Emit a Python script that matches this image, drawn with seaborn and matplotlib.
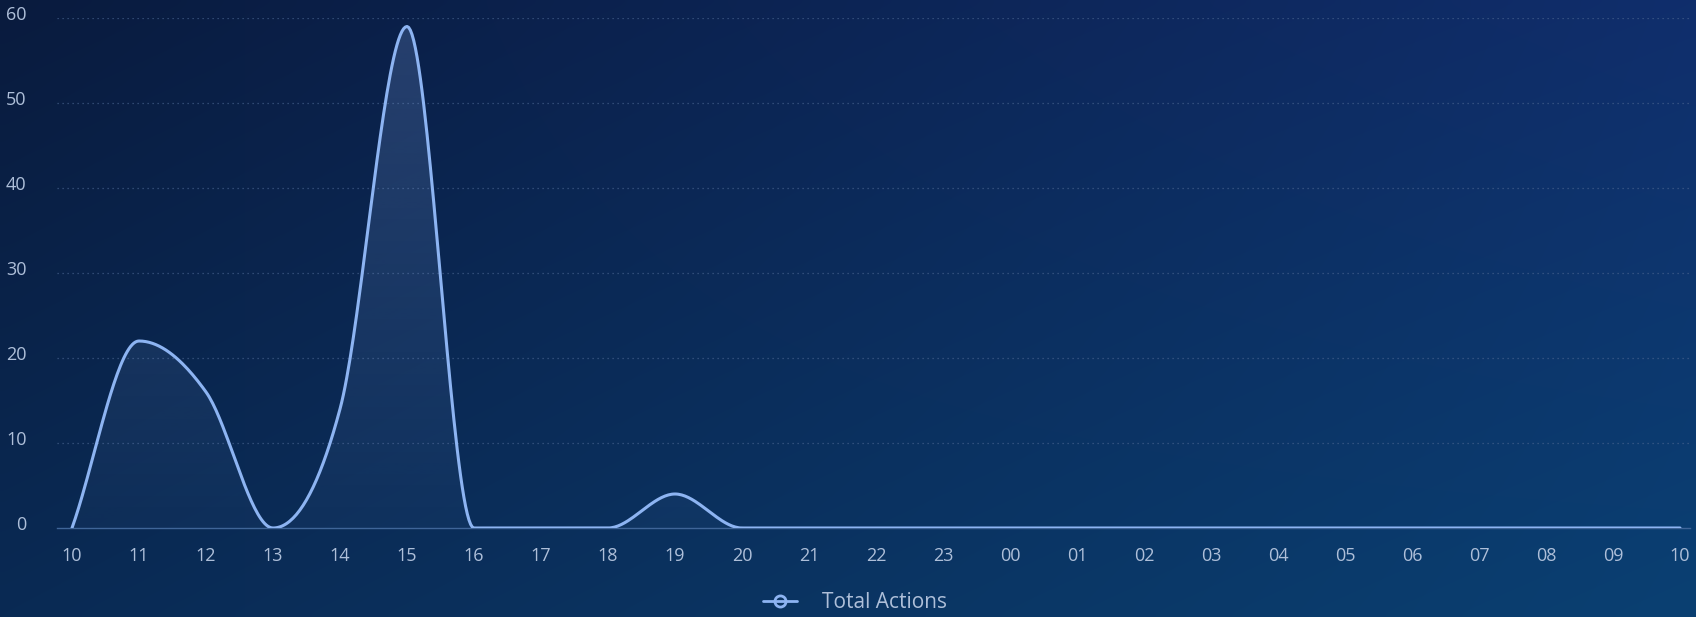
import numpy as np
import pandas as pd
import matplotlib
matplotlib.use("Agg")
import matplotlib.pyplot as plt
import matplotlib.transforms as mtransforms
from matplotlib.lines import Line2D
from matplotlib.patches import Polygon
import seaborn as sns

# Hourly totals, starting at 10:00 and wrapping round to 10:00 next day
hours = ["10", "11", "12", "13", "14", "15", "16", "17", "18", "19", "20", "21",
         "22", "23", "00", "01", "02", "03", "04", "05", "06", "07", "08", "09", "10"]
total_actions = [0, 22, 16, 0, 14, 59, 0, 0, 0, 4, 0, 0,
                 0, 0, 0, 0, 0, 0, 0, 0, 0, 0, 0, 0, 0]
y_ticks = [0, 10, 20, 30, 40, 50, 60]
series_label = "Total Actions"

LINE = "#8db4f2"
TEXT = "#aebfd9"
GRID = "#4a6590"


def monotone_cubic(x, y, n=40):
    """Monotone (Fritsch-Carlson) cubic curve through the points."""
    x = np.asarray(x, float)
    y = np.asarray(y, float)
    h = np.diff(x)
    d = np.diff(y) / h
    m = np.zeros_like(y)
    m[0], m[-1] = d[0], d[-1]
    for i in range(1, len(y) - 1):
        if d[i - 1] * d[i] <= 0:
            m[i] = 0.0
        else:
            m[i] = (d[i - 1] + d[i]) / 2.0
    for i in range(len(d)):
        if d[i] == 0:
            m[i] = m[i + 1] = 0.0
            continue
        a, b = m[i] / d[i], m[i + 1] / d[i]
        s = a * a + b * b
        if s > 9:
            t = 3 / np.sqrt(s)
            m[i], m[i + 1] = t * a * d[i], t * b * d[i]
    xs, ys = [], []
    for i in range(len(d)):
        t = np.linspace(0, 1, n, endpoint=False)
        h00 = 2 * t**3 - 3 * t**2 + 1
        h10 = t**3 - 2 * t**2 + t
        h01 = -2 * t**3 + 3 * t**2
        h11 = t**3 - t**2
        xs.append(x[i] + t * h[i])
        ys.append(h00 * y[i] + h10 * h[i] * m[i] + h01 * y[i + 1] + h11 * h[i] * m[i + 1])
    xs.append([x[-1]])
    ys.append([y[-1]])
    return np.concatenate(xs), np.concatenate(ys)


sns.set_theme(style="dark")
plt.rcParams["font.family"] = ["Open Sans", "DejaVu Sans"]

W, H = 1696, 617
fig = plt.figure(figsize=(W / 100, H / 100), dpi=100)

# Background: soft navy gradient across the whole canvas
bg = fig.add_axes([0, 0, 1, 1])
tl = np.array([9, 27, 62]) / 255
tr = np.array([16, 46, 108]) / 255
bl = np.array([10, 42, 84]) / 255
br = np.array([10, 64, 114]) / 255
u = np.linspace(0, 1, 200)[None, :, None]
v = np.linspace(0, 1, 80)[:, None, None]
grad = (1 - v) * ((1 - u) * tl + u * tr) + v * ((1 - u) * bl + u * br)
bg.imshow(grad, aspect="auto", extent=[0, 1, 0, 1], interpolation="bicubic")
bg.set_axis_off()

left, right = 57 / W, 1690 / W
bottom, top = (H - 528) / H, (H - 18) / H
ax = fig.add_axes([left, bottom, right - left, top - bottom])
ax.set_facecolor("none")

px = 1608 / 24  # pixels per hour
x_pos = np.arange(len(hours))
xs, ys = monotone_cubic(x_pos, total_actions)
curve = pd.DataFrame({"x": xs, "y": ys})

x_lo, x_hi = -15 / px, 24 + 10 / px
ax.set_xlim(x_lo, x_hi)
ax.set_ylim(0, 60)

# Area under the curve: vertical fade, brighter towards the top
rgb = np.array(matplotlib.colors.to_rgb(LINE))
alpha = np.linspace(0.22, 0.04, 256)[:, None]
fade = np.zeros((256, 2, 4))
fade[..., :3] = rgb
fade[..., 3] = alpha
img = ax.imshow(fade, extent=[x_lo, x_hi, 0, 60], aspect="auto", origin="upper",
                zorder=1, interpolation="bilinear")
clip = Polygon(np.column_stack([np.r_[xs, xs[-1], xs[0]], np.r_[ys, 0, 0]]),
               closed=True, facecolor="none", edgecolor="none", transform=ax.transData)
ax.add_patch(clip)
img.set_clip_path(clip)

sns.lineplot(data=curve, x="x", y="y", ax=ax, color=LINE, linewidth=2.2,
             estimator=None, sort=False, zorder=3)

ax.set_xlim(x_lo, x_hi)
ax.set_ylim(0, 60)
ax.set_xticks(x_pos)
ax.set_xticklabels(hours)
ax.set_yticks(y_ticks)
ax.set_xlabel("")
ax.set_ylabel("")

ax.grid(False)
for yv in y_ticks[1:]:
    ax.axhline(yv, color=GRID, linewidth=0.9, linestyle=(0, (1, 3)), alpha=0.8, zorder=0)
for s in ["top", "right", "left"]:
    ax.spines[s].set_visible(False)
ax.spines["bottom"].set_color("#3f6598")
ax.spines["bottom"].set_linewidth(1.0)

ax.tick_params(axis="x", colors="#3f6598", length=8, width=1, direction="out",
               labelcolor=TEXT, labelsize=13, pad=6)
ax.tick_params(axis="y", length=0, labelcolor=TEXT, labelsize=13, pad=22)
shift = mtransforms.ScaledTranslation(0, 5 / 100, fig.dpi_scale_trans)
for lab in ax.get_yticklabels():
    lab.set_transform(lab.get_transform() + shift)

handle = Line2D([0], [0], color=LINE, linewidth=2, marker="o", markersize=8,
                markerfacecolor="none", markeredgewidth=2)
fig.legend([handle], [series_label], loc="center", bbox_to_anchor=(855 / W, (H - 603) / H),
           frameon=False, fontsize=15, labelcolor=TEXT, handlelength=1.6,
           handletextpad=1.2)

fig.savefig("out.png", dpi=100)
